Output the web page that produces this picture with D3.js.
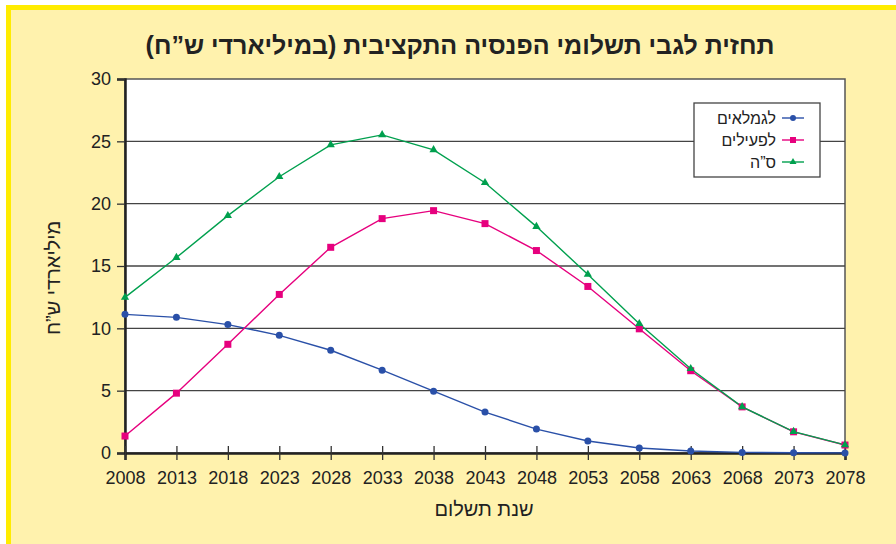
<!DOCTYPE html>
<html>
<head>
<meta charset="utf-8">
<script src="https://cdn.jsdelivr.net/npm/d3@7"></script>
<style>
  body { margin: 0; background: #fff; }
  svg text { font-family: "Liberation Sans", Arial, sans-serif; }
</style>
</head>
<body>
<div id="chart-area"></div>
<script>
// data (billions NIS)
var years = [2008, 2013, 2018, 2023, 2028, 2033, 2038, 2043, 2048, 2053, 2058, 2063, 2068, 2073, 2078];
var retirees = [11.12, 10.88, 10.3, 9.44, 8.24, 6.64, 4.96, 3.28, 1.92, 0.96, 0.4, 0.16, 0.05, 0.02, 0.01];
var active = [1.36, 4.8, 8.72, 12.72, 16.5, 18.8, 19.44, 18.4, 16.24, 13.36, 9.96, 6.6, 3.7, 1.7, 0.64];
var total = [12.48, 15.68, 19.04, 22.16, 24.72, 25.52, 24.32, 21.68, 18.16, 14.32, 10.37, 6.76, 3.7, 1.72, 0.65];
var yTicks = [0, 5, 10, 15, 20, 25, 30];

var seriesNames = ["לגמלאים", "לפעילים", "ס\u201Dה"];

var W = 896, H = 544;
var margin = { left:125, right:51, top:79, bottom:91 },
    width = W - margin.left - margin.right,
    height = H - margin.top - margin.bottom;

var svg = d3.select("#chart-area")
    .append("svg")
    .attr("width", W)
    .attr("height", H);

// yellow frame
svg.append("rect").attr("x", 6).attr("y", 5).attr("width", W - 6).attr("height", H - 5)
    .attr("fill", "#ffec00");
svg.append("rect").attr("x", 11).attr("y", 10).attr("width", W - 11).attr("height", H - 10)
    .attr("fill", "#fff2ad");

svg.append("text")
    .attr("x", 460).attr("y", 54)
    .attr("text-anchor", "middle")
    .attr("font-size", "25px")
    .attr("font-weight", "bold")
    .attr("fill", "#222")
    .text("תחזית לגבי תשלומי הפנסיה התקציבית (במיליארדי ש\u201Dח)");

var g = svg.append("g")
    .attr("transform", "translate(" + margin.left + "," + margin.top + ")");

var x = d3.scaleLinear().domain([2008, 2078]).range([0, width]);
var y = d3.scaleLinear().domain([0, 30]).range([height, 0]);

g.append("rect").attr("width", width).attr("height", height).attr("fill", "#fff")
    .attr("stroke", "#555").attr("stroke-width", 1.5);

// gridlines
g.selectAll(".grid").data(yTicks.slice(1, -1)).enter()
    .append("line")
    .attr("x1", 0).attr("x2", width)
    .attr("y1", function(d){ return y(d); })
    .attr("y2", function(d){ return y(d); })
    .attr("stroke", "#444").attr("stroke-width", 1.3);

// Y axis
var yAxis = g.append("g")
    .call(d3.axisLeft(y).tickValues(yTicks).tickSize(8).tickPadding(6));
yAxis.select(".domain").attr("stroke", "#222").attr("stroke-width", 2.5);
yAxis.selectAll(".tick line").attr("stroke", "#333").attr("stroke-width", 1.3);
yAxis.selectAll("text").attr("font-size", "18px").attr("fill", "#222")
    .attr("font-family", "Liberation Sans, Arial, sans-serif");

// X axis
var xAxis = g.append("g")
    .attr("transform", "translate(0," + height + ")")
    .call(d3.axisBottom(x).tickValues(years).tickFormat(d3.format("d")).tickSize(7).tickPadding(11));
xAxis.select(".domain").attr("stroke", "#222").attr("stroke-width", 2.5);
xAxis.selectAll(".tick line").attr("y1", -7).attr("stroke", "#333").attr("stroke-width", 1.3);
xAxis.selectAll("text").attr("font-size", "18px").attr("fill", "#222")
    .attr("font-family", "Liberation Sans, Arial, sans-serif");

// axis labels
svg.append("text")
    .attr("transform", "translate(60," + (margin.top + height / 2 + 12) + ") rotate(-90)")
    .attr("text-anchor", "middle")
    .attr("font-size", "20px")
    .attr("fill", "#222")
    .text("מיליארדי ש\u201Dח");

svg.append("text")
    .attr("x", 484).attr("y", 516)
    .attr("text-anchor", "middle")
    .attr("font-size", "20px")
    .attr("fill", "#222")
    .text("שנת תשלום");

var series = [
    { name: seriesNames[0], values: retirees, color: "#2a50a8", shape: "circle" },
    { name: seriesNames[1], values: active, color: "#e6007e", shape: "square" },
    { name: seriesNames[2], values: total, color: "#00a04e", shape: "triangle" }
];

var line = d3.line()
    .x(function(d, i){ return x(years[i]); })
    .y(function(d){ return y(d); });

function marker(sel, s, size) {
    if (s.shape === "circle") {
        sel.append("circle").attr("r", size * 0.5).attr("fill", s.color);
    } else if (s.shape === "square") {
        sel.append("rect").attr("x", -size / 2).attr("y", -size / 2)
            .attr("width", size).attr("height", size).attr("fill", s.color);
    } else {
        sel.append("path").attr("d", d3.symbol().type(d3.symbolTriangle).size(size * size * 0.6)())
            .attr("fill", s.color);
    }
}

series.forEach(function(s) {
    g.append("path")
        .attr("d", line(s.values))
        .attr("fill", "none")
        .attr("stroke", s.color)
        .attr("stroke-width", 1.4);
});
series.forEach(function(s) {
    g.selectAll(".pt-" + s.shape).data(s.values).enter()
        .append("g")
        .attr("transform", function(d, i){ return "translate(" + x(years[i]) + "," + y(d) + ")"; })
        .each(function(){ marker(d3.select(this), s, 7); });
});

// legend
var lg = svg.append("g").attr("transform", "translate(694,103)");
lg.append("rect").attr("width", 126).attr("height", 74)
    .attr("fill", "#fff").attr("stroke", "#444").attr("stroke-width", 1.3);
series.forEach(function(s, i) {
    var row = lg.append("g").attr("transform", "translate(0," + (15 + i * 22) + ")");
    row.append("line").attr("x1", 88).attr("x2", 110).attr("stroke", s.color).attr("stroke-width", 1.4);
    var m = row.append("g").attr("transform", "translate(99,0)");
    marker(m, s, 6);
    row.append("text")
        .attr("x", 82).attr("y", 6)
        .attr("text-anchor", "end")
        .attr("font-size", "16px")
        .attr("fill", "#222")
        .text(s.name);
});
</script>
</body>
</html>
